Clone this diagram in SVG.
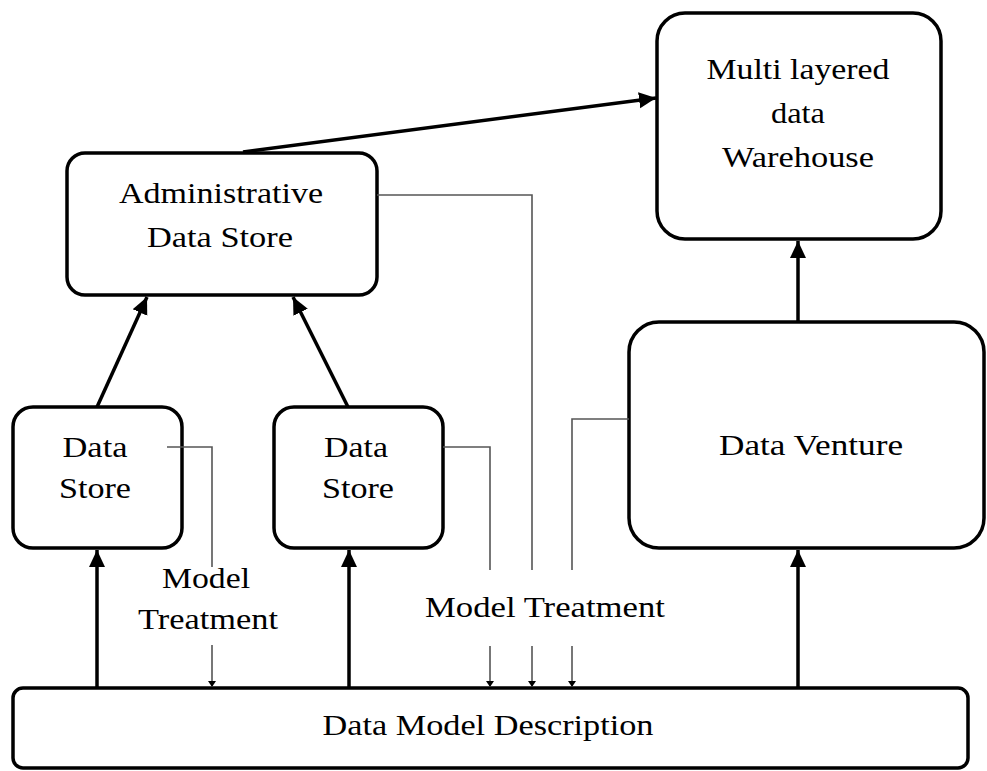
<svg xmlns="http://www.w3.org/2000/svg" width="987" height="771" viewBox="0 0 987 771">
<style>
.box{fill:#fff;stroke:#000;stroke-width:3.5}
.lbl{font-family:"Liberation Serif","Times New Roman",serif;font-size:30px;fill:#000;text-anchor:middle}
.thick{fill:none;stroke:#000;stroke-width:3.5}
.thin{fill:none;stroke:#555;stroke-width:1.6}
</style>
<defs>
<marker id="ah" markerUnits="userSpaceOnUse" markerWidth="18" markerHeight="18" refX="17" refY="8" orient="auto" viewBox="0 0 18 16">
<path d="M0,0 L17,8 L0,16 z" fill="#000"/>
</marker>
<marker id="sa" markerUnits="userSpaceOnUse" markerWidth="8" markerHeight="8" refX="6" refY="4" orient="auto" viewBox="0 0 8 8">
<path d="M0,0 L6,4 L0,8 z" fill="#000"/>
</marker>
</defs>
<rect width="987" height="771" fill="#fff"/>

<g id="warehouse">
<rect class="box" x="657" y="13" width="284" height="226" rx="28"/>
<text class="lbl" x="798" y="79" textLength="183" lengthAdjust="spacingAndGlyphs">Multi layered</text>
<text class="lbl" x="798" y="123" textLength="54" lengthAdjust="spacingAndGlyphs">data</text>
<text class="lbl" x="798" y="167" textLength="152" lengthAdjust="spacingAndGlyphs">Warehouse</text>
</g>

<g id="admin">
<rect class="box" x="67" y="153" width="310" height="142" rx="18"/>
<text class="lbl" x="221" y="203" textLength="204" lengthAdjust="spacingAndGlyphs">Administrative</text>
<text class="lbl" x="220" y="247" textLength="146" lengthAdjust="spacingAndGlyphs">Data Store</text>
</g>

<g id="store1">
<rect class="box" x="13" y="407" width="169" height="141" rx="20"/>
<text class="lbl" x="95" y="457" textLength="65" lengthAdjust="spacingAndGlyphs">Data</text>
<text class="lbl" x="95" y="498" textLength="72" lengthAdjust="spacingAndGlyphs">Store</text>
</g>

<g id="store2">
<rect class="box" x="274" y="407" width="169" height="141" rx="20"/>
<text class="lbl" x="356" y="457" textLength="64" lengthAdjust="spacingAndGlyphs">Data</text>
<text class="lbl" x="358" y="498" textLength="72" lengthAdjust="spacingAndGlyphs">Store</text>
</g>

<g id="venture">
<rect class="box" x="629" y="322" width="355" height="226" rx="30"/>
<text class="lbl" x="811" y="455" textLength="184" lengthAdjust="spacingAndGlyphs">Data Venture</text>
</g>

<g id="dmd">
<rect class="box" x="13" y="688" width="955" height="80" rx="10"/>
<text class="lbl" x="488" y="735" textLength="331" lengthAdjust="spacingAndGlyphs">Data Model Description</text>
</g>

<g id="labels">
<text class="lbl" x="206" y="588" textLength="88" lengthAdjust="spacingAndGlyphs">Model</text>
<text class="lbl" x="208" y="629" textLength="140" lengthAdjust="spacingAndGlyphs">Treatment</text>
<text class="lbl" x="545" y="617" textLength="240" lengthAdjust="spacingAndGlyphs">Model Treatment</text>
</g>

<g id="connectors">
<line class="thick" x1="243" y1="152" x2="656" y2="98" marker-end="url(#ah)"/>
<line class="thick" x1="97" y1="407" x2="147" y2="297" marker-end="url(#ah)"/>
<line class="thick" x1="348" y1="407" x2="293" y2="297" marker-end="url(#ah)"/>
<line class="thick" x1="97" y1="688" x2="97" y2="550" marker-end="url(#ah)"/>
<line class="thick" x1="349" y1="688" x2="349" y2="550" marker-end="url(#ah)"/>
<line class="thick" x1="798" y1="688" x2="798" y2="550" marker-end="url(#ah)"/>
<line class="thick" x1="798" y1="322" x2="798" y2="241" marker-end="url(#ah)"/>

<polyline class="thin" points="167,447 212,447 212,567"/>
<line class="thin" x1="212" y1="645" x2="212" y2="687" marker-end="url(#sa)"/>
<polyline class="thin" points="443,447 490,447 490,570"/>
<line class="thin" x1="490" y1="646" x2="490" y2="687" marker-end="url(#sa)"/>
<polyline class="thin" points="377,195 532,195 532,570"/>
<line class="thin" x1="532" y1="646" x2="532" y2="687" marker-end="url(#sa)"/>
<polyline class="thin" points="629,419 572,419 572,570"/>
<line class="thin" x1="572" y1="646" x2="572" y2="687" marker-end="url(#sa)"/>
</g>
</svg>
